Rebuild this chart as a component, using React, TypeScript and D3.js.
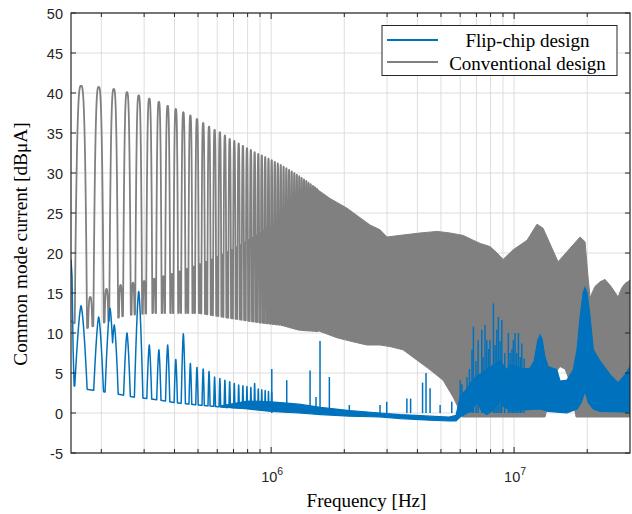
import React from 'react';
import * as d3 from 'd3';

// ---------------- data ----------------
// Conventional design: resolved harmonics (kHz) and peak levels (dBµA)
const convOddKHz = [165, 195, 225, 255, 285, 315, 345, 375, 405, 435, 465, 495, 525, 555, 585, 615, 645, 675, 705, 735, 765, 795, 825, 855, 885, 915, 945, 975, 1005, 1035, 1065, 1095, 1125, 1155, 1185, 1215, 1245, 1275, 1305, 1335, 1365, 1395, 1425, 1455, 1485, 1515, 1545, 1575, 1605];
const convOddDb = [40.9, 40.75, 40.5, 40.1, 39.7, 39.3, 38.9, 38.4, 38.0, 37.6, 37.2, 36.75, 36.25, 35.8, 35.4, 35.1, 34.7, 34.25, 34.0, 33.7, 33.4, 33.1, 32.9, 32.6, 32.4, 32.2, 32.0, 31.8, 31.6, 31.4, 31.2, 31.0, 30.8, 30.6, 30.4, 30.2, 30.0, 29.8, 29.6, 29.4, 29.2, 29.0, 28.8, 28.6, 28.4, 28.2, 28.0, 27.8, 27.6];
const convEvenKHz = [180, 210, 240, 270, 300, 330, 360, 390, 420, 450, 480, 510, 540, 570, 600, 630, 660, 690, 720, 750, 780, 810, 840, 870, 900, 930, 960, 990, 1020, 1050, 1080, 1110, 1140, 1170, 1200, 1230, 1260, 1290, 1320, 1350, 1380, 1410, 1440, 1470, 1500, 1530, 1560, 1590];
const convEvenDb = [14.5, 15.5, 16.0, 16.3, 16.5, 16.8, 17.1, 17.4, 17.7, 18.0, 18.3, 18.6, 18.9, 19.2, 19.5, 19.8, 20.1, 20.4, 20.7, 21.0, 21.3, 21.6, 21.9, 22.2, 22.5, 22.8, 23.1, 23.4, 23.6, 23.8, 24.0, 24.3, 24.6, 24.9, 25.1, 25.3, 25.5, 25.7, 25.9, 26.2, 26.4, 26.6, 26.8, 27.0, 27.2, 27.4, 27.6, 27.8];
const convFloorKHz = [150, 170, 200, 250, 320, 500, 700, 900, 1100, 1300, 1600];
const convFloorDb = [11.5, 10.5, 11.2, 12.2, 12.5, 12.5, 11.8, 11.3, 11.0, 10.4, 10.2];
// Conventional design, dense part: upper / lower envelope (MHz, dBµA)
const convTopMHz = [1.5, 1.589, 1.75, 2.053, 2.3, 2.553, 2.807, 3.0, 3.49, 4.1, 4.82, 5.45, 6.17, 6.78, 7.25, 7.96, 8.51, 9.01, 9.91, 11.31, 12.43, 13.16, 15.17, 17.0, 18.69, 19.59, 20.16, 20.55, 21.5, 22.59, 23.68, 25.08, 26.8, 27.7, 28.63, 30];
const convTopDb = [28.3, 27.7, 26.8, 25.6, 24.5, 23.5, 22.9, 22.0, 22.25, 22.5, 22.7, 22.5, 22.2, 21.6, 21.2, 20.8, 20.0, 19.2, 20.4, 21.6, 23.6, 23.1, 18.9, 20.6, 22.0, 21.4, 17.0, 14.4, 15.8, 16.4, 16.7, 15.8, 14.5, 15.6, 16.2, 16.6];
const convBotMHz = [1.5, 1.589, 1.868, 2.173, 2.481, 2.807, 3.085, 3.49, 3.99, 4.51, 5.1, 5.61, 5.82, 6.11, 13.4, 14.2, 14.75, 15.46, 16.2, 16.84, 17.33, 18.0, 30];
const convBotDb = [10.6, 10.2, 9.4, 8.9, 8.5, 8.5, 8.3, 7.9, 6.6, 5.4, 4.1, 2.0, 1.0, -0.5, -0.5, 2.5, 5.0, 5.8, 5.5, 4.2, 2.0, -0.5, -0.5];

// Flip-chip design: resolved harmonics (kHz, dBµA)
const flipPeakKHz = [165, 195, 217, 226, 255, 285, 315, 345, 375, 405, 435, 465, 495, 525, 555, 585, 615, 645, 675, 705, 735, 765, 795, 825, 855, 885, 915, 945, 975, 1005];
const flipPeakDb = [13.4, 12.0, 13.1, 11.0, 10.0, 15.2, 8.5, 7.9, 8.5, 6.7, 9.9, 6.2, 5.7, 5.5, 5.2, 4.5, 4.3, 4.1, 3.9, 3.7, 3.5, 3.4, 3.3, 3.2, 3.7, 3.0, 2.9, 2.8, 2.7, 2.6];
const flipFloorKHz = [150, 151.5, 153, 154.5, 160, 180, 200, 240, 270, 310, 350, 400, 500, 650, 800, 1010];
const flipFloorDb = [19.2, 17.0, 8.0, 3.4, 3.1, 2.9, 2.7, 2.3, 2.0, 1.8, 1.6, 1.3, 1.0, 0.7, 0.6, 0.3];
// Flip-chip design, dense part envelopes (MHz, dBµA)
const flipTopMHz = [0.62, 0.8, 1.0, 1.3, 1.6, 2.1, 2.8, 3.4, 4.5, 5.4, 5.77, 5.99, 6.17, 6.4, 6.71, 6.97, 7.36, 7.72, 8.22, 8.76, 9.33, 9.63, 10.29, 10.99, 11.63, 12.1, 12.5, 12.79, 13.05, 13.4, 13.8, 14.99, 15.46, 16.48, 17.53, 18.17, 18.69, 19.23, 19.59, 19.98, 20.55, 21.2, 22.59, 24.84, 26.8, 28.63, 30];
const flipTopDb = [0.9, 1.5, 1.4, 1.1, 0.7, 0.3, 0.0, -0.2, -0.4, -0.5, -0.3, 2.0, 2.5, 3.0, 4.0, 4.5, 5.0, 5.5, 6.0, 6.5, 5.4, 6.0, 5.8, 5.5, 5.6, 6.5, 9.0, 9.75, 9.2, 7.0, 5.8, 5.4, 4.0, 4.1, 5.4, 8.0, 12.0, 15.0, 15.7, 15.0, 12.0, 7.9, 6.5, 4.8, 3.75, 4.8, 5.8];
const flipBotMHz = [0.62, 0.8, 1.0, 1.3, 1.6, 2.1, 2.8, 3.4, 4.5, 5.4, 5.77, 5.99, 6.4, 6.71, 6.85, 7.02, 7.2, 7.36, 7.72, 8.22, 8.5, 8.76, 9.05, 9.63, 10.99, 12.79, 13.8, 16.48, 18.17, 18.9, 19.59, 20.2, 21.2, 22.59, 30];
const flipBotDb = [0.8, 0.5, 0.2, 0.0, -0.2, -0.4, -0.5, -0.7, -0.9, -1.0, -1.0, -0.5, 0.0, 0.3, 0.9, 1.4, 0.8, 0.2, -0.2, 0.4, 1.0, 1.5, 0.8, 0.4, 0.4, 0.5, 0.2, 0.0, 0.5, 1.3, 2.7, 1.3, 0.5, 0.2, 0.1];
// Flip-chip design: isolated spikes (MHz, dBµA)
const flipSpikeMHz = [1.006, 1.159, 1.446, 1.53, 1.589, 1.736, 2.098, 2.807, 2.99, 3.62, 3.75, 4.2, 4.34, 4.51, 4.96, 5.54, 6.0, 6.1, 6.4, 6.55, 6.71, 6.8, 6.97, 7.11, 7.36, 7.45, 7.59, 7.72, 7.85, 7.96, 8.22, 8.35, 8.49, 8.62, 8.76, 8.9, 9.15, 9.47, 9.63, 9.8, 9.93, 10.09, 10.25, 10.42, 10.6, 10.76, 11.0];
const flipSpikeDb = [5.5, 4.1, 5.3, 2.0, 9.0, 4.5, 1.0, 1.0, 1.4, 1.8, 1.8, 3.8, 5.0, 3.1, 1.0, 1.4, 4.1, 3.6, 4.5, 5.5, 7.9, 10.8, 6.5, 9.1, 10.4, 7.0, 11.0, 9.1, 8.0, 9.1, 13.7, 8.5, 10.4, 12.0, 9.0, 11.6, 7.5, 10.0, 7.5, 8.0, 9.1, 10.0, 7.5, 10.0, 7.0, 8.7, 6.8];

const yTicks = [-5, 0, 5, 10, 15, 20, 25, 30, 35, 40, 45, 50];
const seriesNames = ['Flip-chip design', 'Conventional design'];

// ---------------- layout / style ----------------
const W = 632, H = 514;
const PL = 71, PR = 630, PT = 13, PB = 453;
const GRAY = '#808080';
const BLUE = '#0072BD';
const AX = '#262626';
const SANS = "'Liberation Sans', Arial, Helvetica, sans-serif";
const SERIF = "'Liberation Serif', 'Times New Roman', serif";

type P = [number, number];

function combPoints(startK: number, endK: number, floor: (f: number) => number,
  groups: { k: number[]; db: number[]; drop: (d: number) => number }[]): P[] {
  const pts: P[] = [];
  for (let i = 0; ; i++) {
    const f = startK + i * 0.25;
    if (f > endK) break;
    let v = floor(f);
    for (const g of groups) {
      for (let j = 0; j < g.k.length; j++) {
        const d = Math.abs(f - g.k[j]);
        if (d < 16) v = Math.max(v, g.db[j] - g.drop(d));
      }
    }
    pts.push([f * 1e3, v]);
  }
  return pts;
}

export default function App() {
  const x = d3.scaleLog().domain([1.5e5, 3e7]).range([PL, PR]);
  const y = d3.scaleLinear().domain([-5, 50]).range([PB, PT]);
  const line = d3.line<P>().x(d => x(d[0])).y(d => y(d[1]));

  const convFloor = d3.scaleLog().domain(convFloorKHz).range(convFloorDb).clamp(true);
  const flipFloor = d3.scaleLog().domain(flipFloorKHz).range(flipFloorDb).clamp(true);

  const convComb = combPoints(150, 1560, convFloor, [
    { k: convOddKHz, db: convOddDb, drop: d => 0.034 * d * d * d },
    { k: convEvenKHz, db: convEvenDb, drop: d => 0.08 * d * d * d },
  ]);
  const flipComb = combPoints(150, 1010, flipFloor, [
    { k: flipPeakKHz, db: flipPeakDb, drop: d => 0.34 * Math.pow(d, 1.5) },
  ]);

  const band = (tf: number[], td: number[], bf: number[], bd: number[]) => {
    const top: P[] = tf.map((f, i) => [f * 1e6, td[i]]);
    const bot: P[] = bf.map((f, i) => [f * 1e6, bd[i]] as P).reverse();
    return line([...top, ...bot]) + 'Z';
  };

  const xt = x.ticks().filter(t => t > 1.5e5 * 1.001 && t < 3e7 * 0.999);
  const isMajor = (t: number) => Math.abs(Math.log10(t) - Math.round(Math.log10(t))) < 1e-9;

  return (
    <svg width={W} height={H} style={{ position: 'absolute', left: 0, top: 0, background: '#fff' }}>
      <defs>
        <clipPath id="plotclip">
          <rect x={PL} y={PT} width={PR - PL} height={PB - PT} />
        </clipPath>
      </defs>
      <rect x={0} y={0} width={W} height={H} fill="#fff" />
      {/* grid */}
      <g stroke="#dedede" strokeWidth={1}>
        {xt.map(t => <line key={'gx' + t} x1={x(t)} x2={x(t)} y1={PT} y2={PB} />)}
        {yTicks.map(v => <line key={'gy' + v} x1={PL} x2={PR} y1={y(v)} y2={y(v)} />)}
      </g>
      <g clipPath="url(#plotclip)">
        {/* Conventional design */}
        <path d={line(convComb) || ''} fill="none" stroke={GRAY} strokeWidth={1.8} strokeLinejoin="round" />
        <path d={band(convTopMHz, convTopDb, convBotMHz, convBotDb)} fill={GRAY} stroke={GRAY} strokeWidth={1} />
        {/* Flip-chip design */}
        <path d={band(flipTopMHz, flipTopDb, flipBotMHz, flipBotDb)} fill={BLUE} stroke={BLUE} strokeWidth={1.2} />
        <path d={line(flipComb) || ''} fill="none" stroke={BLUE} strokeWidth={1.5} strokeLinejoin="round" />
        {flipSpikeMHz.map((f, i) => (
          <line key={'sp' + i} x1={x(f * 1e6)} x2={x(f * 1e6)} y1={y(0)} y2={y(flipSpikeDb[i])} stroke={BLUE} strokeWidth={1.5} />
        ))}
      </g>
      {/* axes box */}
      <rect x={PL} y={PT} width={PR - PL} height={PB - PT} fill="none" stroke={AX} strokeWidth={1.2} />
      <g stroke={AX} strokeWidth={1}>
        {xt.map(t => {
          const L = isMajor(t) ? 6 : 4;
          return (
            <g key={'tx' + t}>
              <line x1={x(t)} x2={x(t)} y1={PB} y2={PB - L} />
              <line x1={x(t)} x2={x(t)} y1={PT} y2={PT + L} />
            </g>
          );
        })}
        {yTicks.map(v => (
          <g key={'ty' + v}>
            <line x1={PL} x2={PL + 5} y1={y(v)} y2={y(v)} />
            <line x1={PR} x2={PR - 5} y1={y(v)} y2={y(v)} />
          </g>
        ))}
      </g>
      {/* tick labels */}
      <g fill={AX} fontFamily={SANS} fontSize={14.5}>
        {yTicks.map(v => (
          <text key={'ly' + v} x={63} y={y(v) + 1} textAnchor="end" dominantBaseline="central">{v}</text>
        ))}
        {xt.filter(isMajor).map(t => (
          <text key={'lx' + t} x={x(t) + 1} y={481.5} textAnchor="middle">
            10<tspan dy={-7} fontSize={10.5}>{Math.round(Math.log10(t))}</tspan>
          </text>
        ))}
      </g>
      {/* axis labels */}
      <text x={366.5} y={507} textAnchor="middle" fontFamily={SERIF} fontSize={19} fill="#000">Frequency [Hz]</text>
      <text transform={`translate(27,244) rotate(-90)`} textAnchor="middle" fontFamily={SERIF} fontSize={19.3} fill="#000">Common mode current [dBμA]</text>
      {/* legend */}
      <g>
        <rect x={382} y={25.5} width={235} height={50} fill="#fff" stroke={AX} strokeWidth={1} />
        <line x1={387} x2={438} y1={40} y2={40} stroke={BLUE} strokeWidth={2} />
        <line x1={387} x2={438} y1={62} y2={62} stroke={GRAY} strokeWidth={2} />
        <text x={527.5} y={46.5} textAnchor="middle" fontFamily={SERIF} fontSize={19} fill="#000">{seriesNames[0]}</text>
        <text x={527.5} y={69.5} textAnchor="middle" fontFamily={SERIF} fontSize={19} fill="#000">{seriesNames[1]}</text>
      </g>
    </svg>
  );
}
